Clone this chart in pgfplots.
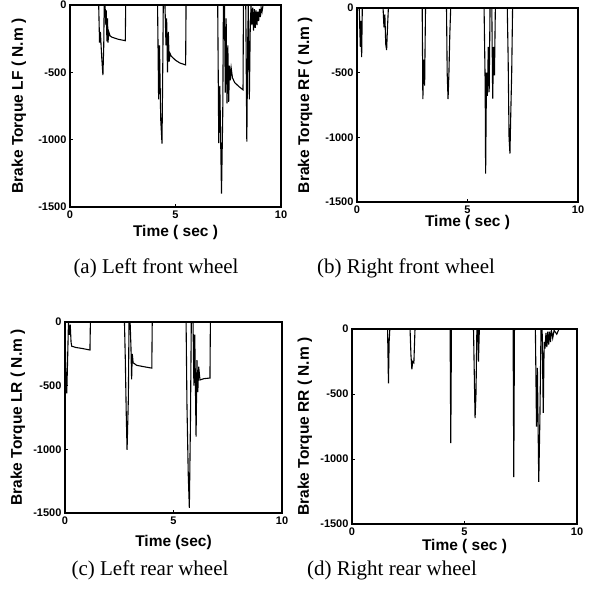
\documentclass[border=0pt]{standalone}
\usepackage{fontspec}
\setmainfont{Liberation Serif}
\newfontfamily\arial{Liberation Sans}
\usepackage{pgfplots}
\pgfplotsset{compat=1.18}

\pgfplotsset{
  brake/.style={
    scale only axis,
    anchor=south west,
    xmin=0, xmax=10, ymin=-1500, ymax=0,
    xtick={0,5,10}, xticklabels={0,5,10},
    ytick={-1500,-1000,-500,0}, yticklabels={-1500,-1000,-500,0},
    xtick pos=left, ytick pos=left,
    tick align=inside, major tick length=3pt,
    axis line style={line width=1.5pt},
    tick style={line width=1pt, black},
    ticklabel style={font=\arial\bfseries\fontsize{11}{13}\selectfont},
    label style={font=\arial\bfseries\fontsize{15.5}{18}\selectfont},
    every axis plot post/.append style={black, mark=none, line width=1.1pt},
  },
}

\begin{document}
\begin{tikzpicture}
\useasboundingbox (0pt,0pt) rectangle (591pt,-599pt);

% (a) left front
\begin{axis}[brake, at={(70pt,-207pt)}, width=211pt, height=202pt,
  xlabel={Time ( sec )}, ylabel={Brake Torque LF ( N.m )},
  xlabel style={at={(axis description cs:0.5,-0.124)}, anchor=center},
  ylabel style={at={(axis description cs:-0.242,0.5)}, anchor=center, rotate=0}]
\addplot coordinates {
 (0,0) (1.36,0) (1.40,-280) (1.44,-200) (1.50,-380) (1.56,-520) (1.60,-300) (1.62,0)
 (1.66,0) (1.70,-150) (1.72,-40) (1.75,-270) (1.78,-100) (1.80,-280) (1.84,-200)
 (1.90,-230) (2.0,-240) (2.3,-255) (2.62,-265) (2.64,0)
 (4.15,0) (4.20,-700) (4.24,-300) (4.30,-850) (4.36,-1030) (4.40,-400) (4.42,0)
 (4.50,0) (4.55,-300) (4.58,-100) (4.62,-500) (4.66,-200) (4.70,-420) (4.74,-360)
 (4.80,-380) (5.0,-410) (5.2,-430) (5.48,-445) (5.50,0)
 (7.00,0) (7.05,-1025) (7.10,-600) (7.18,-1400) (7.24,-800) (7.27,0)
 (7.32,0) (7.36,-650) (7.40,-100) (7.44,-730) (7.48,-300) (7.52,-720) (7.56,-450)
 (7.60,-560) (7.64,-470) (7.70,-540) (7.8,-575) (8.0,-605) (8.2,-630) (8.22,0)
 (8.33,0) (8.38,-1015) (8.42,-300) (8.45,0) (8.50,-700) (8.54,-200) (8.58,0)
 (8.62,-150) (8.66,-20) (8.70,-190) (8.74,-30) (8.78,-170) (8.82,-40) (8.86,-150)
 (8.90,-50) (8.94,-120) (8.98,-30) (9.02,-90) (9.06,-20) (9.10,-50) (9.15,0) (10,0)
};
\end{axis}

% (b) right front
\begin{axis}[brake, at={(357pt,-202pt)}, width=221pt, height=194pt,
  xlabel={Time ( sec )}, ylabel={Brake Torque RF ( N.m )},
  xlabel style={at={(axis description cs:0.5,-0.108)}, anchor=center},
  ylabel style={at={(axis description cs:-0.235,0.5)}, anchor=center, rotate=0}]
\addplot coordinates {
 (0,0) (0.10,0) (0.15,-300) (0.18,-100) (0.21,-380) (0.24,0)
 (1.18,0) (1.22,-150) (1.26,-50) (1.30,-280) (1.34,-325) (1.38,-150) (1.42,0)
 (2.95,0) (2.98,-705) (3.02,-400) (3.06,-600) (3.10,0)
 (4.05,0) (4.08,-500) (4.12,-705) (4.16,-500) (4.20,-200) (4.24,0)
 (5.75,0) (5.80,-600) (5.82,-1280) (5.86,-500) (5.90,-680) (5.94,-300) (5.98,-650) (6.02,0)
 (6.10,0) (6.14,-700) (6.18,-300) (6.22,-520) (6.26,0)
 (6.80,0) (6.84,-400) (6.88,-1000) (6.92,-1125) (6.96,-800) (7.00,-500) (7.04,0) (10,0)
};
\end{axis}

% (c) left rear
\begin{axis}[brake, at={(65pt,-513pt)}, width=217pt, height=191pt,
  xlabel={Time (sec)}, ylabel={Brake Torque LR ( N.m )},
  xlabel style={at={(axis description cs:0.5,-0.152)}, anchor=center},
  ylabel style={at={(axis description cs:-0.217,0.5)}, anchor=center, rotate=0}]
\addplot coordinates {
 (0,0) (0.04,-450) (0.08,-560) (0.12,-300) (0.16,0) (0.20,-100) (0.24,-20)
 (0.28,-160) (0.31,-190) (0.5,-200) (0.8,-208) (1.15,-220) (1.17,0)
 (2.74,0) (2.78,-300) (2.82,-700) (2.86,-1005) (2.92,-600) (2.95,0)
 (3.00,0) (3.04,-200) (3.07,-450) (3.10,-250) (3.14,-320) (3.3,-340) (3.6,-350) (4.0,-362) (4.02,0)
 (5.58,0) (5.62,-650) (5.68,-1200) (5.73,-1460) (5.78,-800) (5.82,0)
 (5.90,0) (5.94,-500) (5.98,-100) (6.04,-900) (6.08,-300) (6.12,-550) (6.16,-350)
 (6.22,-455) (6.4,-445) (6.68,-440) (6.70,0) (10,0)
};
\end{axis}

% (d) right rear
\begin{axis}[brake, at={(352pt,-524pt)}, width=225pt, height=195pt,
  xlabel={Time ( sec )}, ylabel={Brake Torque RR ( N.m )},
  xlabel style={at={(axis description cs:0.5,-0.115)}, anchor=center},
  ylabel style={at={(axis description cs:-0.209,0.5)}, anchor=center, rotate=0}]
\addplot coordinates {
 (0,0) (1.58,0) (1.60,-200) (1.62,-418) (1.65,-100) (1.68,0)
 (2.58,0) (2.62,-200) (2.66,-310) (2.70,-250) (2.75,-260) (2.80,0)
 (4.36,0) (4.39,-877) (4.42,0)
 (5.40,0) (5.44,-400) (5.47,-685) (5.51,-500) (5.55,0) (5.60,0) (5.62,-250) (5.66,0)
 (7.16,0) (7.19,-1140) (7.22,0)
 (8.15,0) (8.20,-750) (8.24,-300) (8.30,-1175) (8.35,-700) (8.40,0)
 (8.45,0) (8.50,-646) (8.54,-100) (8.58,-150) (8.62,-30) (8.66,-140) (8.70,-20)
 (8.74,-120) (8.78,-20) (8.82,-100) (8.86,-10) (8.92,-70) (8.98,-10) (9.1,-40) (9.2,0) (10,0)
};
\end{axis}

\node[font=\fontsize{21}{24}\selectfont] at (156pt,-268pt) {(a) Left front wheel};
\node[font=\fontsize{21}{24}\selectfont] at (406pt,-268pt) {(b) Right front wheel};
\node[font=\fontsize{21}{24}\selectfont] at (150pt,-570pt) {(c) Left rear wheel};
\node[font=\fontsize{21}{24}\selectfont] at (392pt,-570pt) {(d) Right rear wheel};
\end{tikzpicture}
\end{document}
